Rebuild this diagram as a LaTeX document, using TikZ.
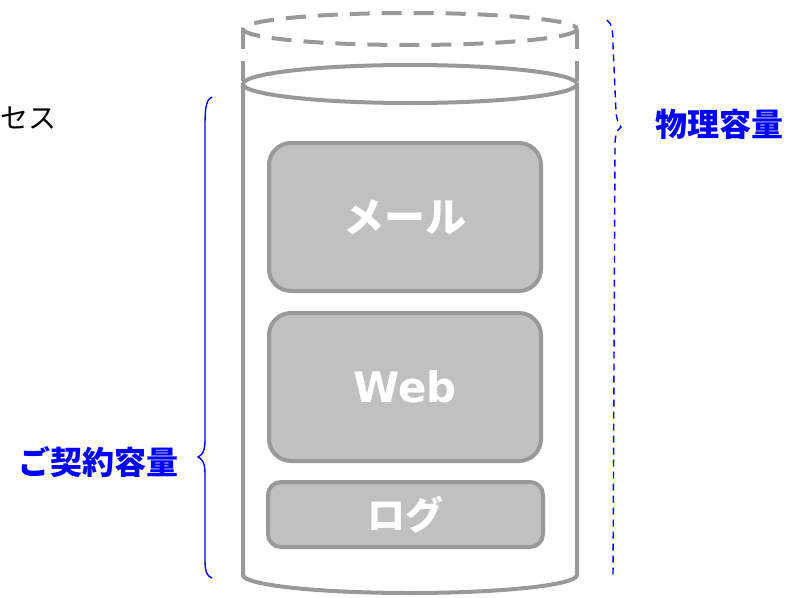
\documentclass[tikz,border=0pt]{standalone}
\usepackage{fontspec}
\newfontfamily\jp{Noto Sans CJK JP}
\newfontfamily\dv{DejaVu Sans}
\definecolor{cylgray}{HTML}{999999}
\definecolor{boxfill}{HTML}{C0C0C0}
\definecolor{lblue}{HTML}{0000FF}
\begin{document}
\begin{tikzpicture}[x=1pt,y=-1pt,
  cyl/.style={draw=cylgray,line width=4pt},
  cyldash/.style={cyl,dash pattern=on 20pt off 12pt},
  appbox/.style={draw=cylgray,line width=4pt,fill=boxfill,rounded corners=22pt,
    minimum width=272pt,minimum height=148pt,inner sep=0pt,text=white,font=\jp\bfseries\fontsize{41}{43}\selectfont},
  smallbox/.style={appbox,rounded corners=13pt,minimum width=275pt,minimum height=65pt,font=\jp\bfseries\fontsize{38}{40}\selectfont},
  lbl/.style={text=lblue,font=\jp\bfseries\fontsize{32}{34}\selectfont,inner sep=0pt},
  brace/.style={draw=lblue,line width=1.4pt}]
\useasboundingbox (0,0) rectangle (808,597);
% dashed physical top
\draw[cyldash] (410,29) ellipse [x radius=167, y radius=16];
\draw[cyldash] (243,29) -- (243,84);
\draw[cyldash] (577,29) -- (577,84);
% cylinder body
\draw[cyl,fill=white] (243,84) -- (243,575) arc[start angle=180,end angle=0,x radius=167,y radius=18] -- (577,84);
\draw[cyl,fill=white] (410,84) ellipse [x radius=167, y radius=19];
% contents
\node[appbox] (mail) at (405,217) {メール};
\node[appbox,font=\dv\bfseries\fontsize{42}{44}\selectfont] (web) at (405,387) {Web};
\node[smallbox] (log) at (405.5,514.5) {ログ};
% braces
\draw[brace] (212,97) .. controls (205,100) and (205,112) .. (205,130) -- (205,440)
  .. controls (205,452) and (202,455) .. (198,457)
  .. controls (202,459) and (205,462) .. (205,474) -- (205,560)
  .. controls (205,572) and (207,576) .. (212,578);
\draw[brace,dash pattern=on 7pt off 5pt] (607,20) .. controls (612,24) and (613,30) .. (613,45) -- (616,112)
  .. controls (617,120) and (618,124) .. (621,127)
  .. controls (617,130) and (615,135) .. (615,145) -- (613,578);
% labels
\node[lbl,anchor=west] (phys) at (655,124) {物理容量};
\node[lbl,anchor=east] (contract) at (179,462) {ご契約容量};
\node[anchor=west,inner sep=0pt,font=\jp\fontsize{28}{30}\selectfont] (access) at (0,118) {セス};
\end{tikzpicture}
\end{document}
